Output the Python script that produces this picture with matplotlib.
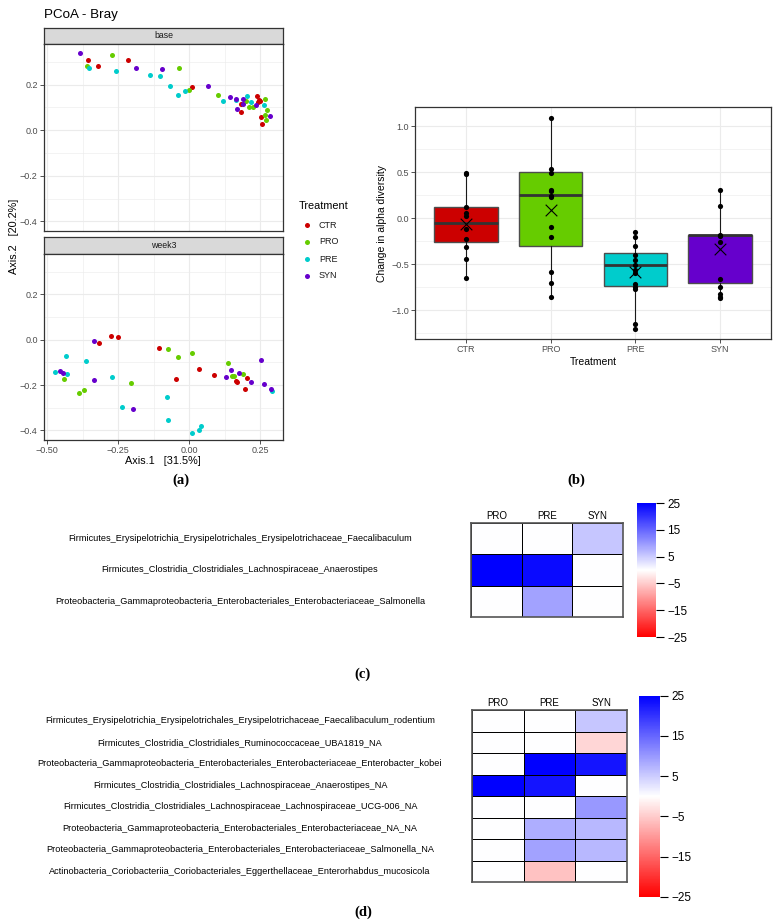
import numpy as np
import matplotlib
matplotlib.use("Agg")
import matplotlib.pyplot as plt
from matplotlib.colors import LinearSegmentedColormap, Normalize
from matplotlib.cm import ScalarMappable
from matplotlib.ticker import MultipleLocator
from matplotlib.transforms import blended_transform_factory

plt.rcParams['font.family'] = ['Liberation Sans', 'DejaVu Sans']

# ---- data ----
treatments = ["CTR", "PRO", "PRE", "SYN"]
colors = ["#CC0000", "#66CC00", "#00CCCC", "#6600CC"]

# PCoA (Bray) coordinates, baseline
base_x = {
    "CTR": [-0.355, -0.321, -0.214, 0.011, 0.183, 0.183, 0.238, 0.245, 0.250, 0.243, 0.252, 0.257],
    "PRO": [-0.360, -0.271, -0.036, 0.001, 0.101, 0.201, 0.212, 0.224, 0.265, 0.275, 0.265, 0.269],
    "PRE": [-0.351, -0.258, -0.137, -0.102, -0.066, -0.041, -0.013, 0.119, 0.165, 0.205, 0.217, 0.262],
    "SYN": [-0.384, -0.186, -0.095, 0.067, 0.143, 0.164, 0.168, 0.189, 0.191, 0.236, 0.285],
}
base_y = {
    "CTR": [0.308, 0.280, 0.306, 0.190, 0.080, 0.113, 0.149, 0.132, 0.128, 0.125, 0.056, 0.029],
    "PRO": [0.280, 0.328, 0.274, 0.176, 0.155, 0.130, 0.100, 0.101, 0.135, 0.088, 0.066, 0.044],
    "PRE": [0.274, 0.258, 0.242, 0.236, 0.193, 0.154, 0.171, 0.127, 0.133, 0.148, 0.122, 0.110],
    "SYN": [0.338, 0.273, 0.267, 0.196, 0.144, 0.139, 0.094, 0.116, 0.136, 0.111, 0.062],
}
# week 3
week3_x = {
    "CTR": [-0.316, -0.274, -0.250, -0.106, -0.045, 0.036, 0.087, 0.164, 0.168, 0.205, 0.198],
    "PRO": [-0.440, -0.386, -0.369, -0.205, -0.075, -0.038, 0.011, 0.138, 0.152, 0.158, 0.191],
    "PRE": [-0.472, -0.432, -0.428, -0.362, -0.272, -0.235, -0.077, -0.074, 0.011, 0.035, 0.040, 0.293],
    "SYN": [-0.453, -0.443, -0.335, -0.334, -0.196, 0.129, 0.147, 0.174, 0.217, 0.251, 0.264, 0.289],
}
week3_y = {
    "CTR": [-0.013, 0.017, 0.014, -0.037, -0.172, -0.128, -0.154, -0.180, -0.185, -0.168, -0.218],
    "PRO": [-0.173, -0.235, -0.220, -0.190, -0.040, -0.075, -0.060, -0.103, -0.161, -0.161, -0.152],
    "PRE": [-0.143, -0.073, -0.152, -0.094, -0.163, -0.295, -0.251, -0.356, -0.409, -0.400, -0.382, -0.224],
    "SYN": [-0.139, -0.146, -0.004, -0.178, -0.304, -0.166, -0.135, -0.147, -0.186, -0.088, -0.193, -0.216],
}

# change in alpha diversity
alpha_pts = {
    "CTR": [0.49, 0.48, 0.12, 0.06, 0.02, -0.12, -0.23, -0.31, -0.44, -0.65],
    "PRO": [1.09, 0.535, 0.485, 0.30, 0.29, 0.24, 0.225, -0.094, -0.207, -0.587, -0.703, -0.855],
    "PRE": [-0.152, -0.203, -0.308, -0.399, -0.457, -0.511, -0.565, -0.60, -0.72, -0.746, -0.77, -1.152, -1.203],
    "SYN": [0.30, 0.135, -0.18, -0.19, -0.26, -0.667, -0.75, -0.83, -0.855, -0.87],
}
box_q1 = [-0.26, -0.30, -0.74, -0.71]
box_med = [-0.05, 0.25, -0.51, -0.185]
box_q3 = [0.12, 0.495, -0.377, -0.18]
box_lo = [-0.65, -0.855, -1.203, -0.87]
box_hi = [0.49, 1.09, -0.152, 0.30]
box_mean = [-0.065, 0.083, -0.583, -0.337]

# heatmaps
heat_cols = ["PRO", "PRE", "SYN"]
taxa_c = [
    "Firmicutes_Erysipelotrichia_Erysipelotrichales_Erysipelotrichaceae_Faecalibaculum",
    "Firmicutes_Clostridia_Clostridiales_Lachnospiraceae_Anaerostipes",
    "Proteobacteria_Gammaproteobacteria_Enterobacteriales_Enterobacteriaceae_Salmonella",
]
heat_c = [[0, 0, 5.5],
          [25, 24, 0],
          [0, 9, 0]]
taxa_d = [
    "Firmicutes_Erysipelotrichia_Erysipelotrichales_Erysipelotrichaceae_Faecalibaculum_rodentium",
    "Firmicutes_Clostridia_Clostridiales_Ruminococcaceae_UBA1819_NA",
    "Proteobacteria_Gammaproteobacteria_Enterobacteriales_Enterobacteriaceae_Enterobacter_kobei",
    "Firmicutes_Clostridia_Clostridiales_Lachnospiraceae_Anaerostipes_NA",
    "Firmicutes_Clostridia_Clostridiales_Lachnospiraceae_Lachnospiraceae_UCG-006_NA",
    "Proteobacteria_Gammaproteobacteria_Enterobacteriales_Enterobacteriaceae_NA_NA",
    "Proteobacteria_Gammaproteobacteria_Enterobacteriales_Enterobacteriaceae_Salmonella_NA",
    "Actinobacteria_Coriobacteriia_Coriobacteriales_Eggerthellaceae_Enterorhabdus_mucosicola",
]
heat_d = [[0, 0, 5.5],
          [0, 0, -4],
          [0, 25, 23],
          [25, 23, 0],
          [0, 0, 10],
          [0, 8, 7],
          [0, 9, 7],
          [0, -6, 0]]
cbar_ticks = [25, 15, 5, -5, -15, -25]

# ---- layout helpers (pixel boxes) ----
W, H = 784, 924
fig = plt.figure(figsize=(W / 100, H / 100), dpi=100)


def box(l, t, r, b):
    return fig.add_axes([l / W, 1 - b / H, (r - l) / W, (b - t) / H])


GRID = "#EBEBEB"
BORDER = "#333333"
TICKC = "#4D4D4D"


def style_bw(ax):
    ax.set_facecolor("white")
    ax.grid(True, which="major", color=GRID, lw=0.8)
    ax.grid(True, which="minor", color=GRID, lw=0.4)
    ax.set_axisbelow(True)
    for s in ax.spines.values():
        s.set_color(BORDER)
        s.set_linewidth(0.9)
    ax.tick_params(which="major", length=3, width=0.6, color=BORDER,
                   labelsize=6.5, labelcolor=TICKC, pad=1.5)
    ax.tick_params(which="minor", length=0)


def strip(l, t, r, b, label):
    s = box(l, t, r, b)
    s.set_facecolor("#D9D9D9")
    s.set_xticks([])
    s.set_yticks([])
    for sp in s.spines.values():
        sp.set_color(BORDER)
        sp.set_linewidth(0.9)
    s.text(0.5, 0.5, label, ha="center", va="center", fontsize=6.3, color="#1A1A1A",
           transform=s.transAxes)


# ---- (a) PCoA ----
facets = [("base", base_x, base_y, 28, 44, 231), ("week3", week3_x, week3_y, 237, 254, 440)]
for i, (name, fx, fy, st, pt, pb) in enumerate(facets):
    strip(44, st, 283, pt, name)
    ax = box(44, pt, 283, pb)
    style_bw(ax)
    for t, c in zip(treatments, colors):
        ax.scatter(fx[t], fy[t], s=13, color=c, linewidths=0, zorder=3)
    ax.set_xlim(-0.5106, 0.330)
    ax.set_ylim(-0.442, 0.378)
    ax.xaxis.set_major_locator(MultipleLocator(0.25))
    ax.xaxis.set_minor_locator(MultipleLocator(0.125))
    ax.yaxis.set_major_locator(MultipleLocator(0.2))
    ax.yaxis.set_minor_locator(MultipleLocator(0.1))
    ax.yaxis.set_major_formatter(plt.FuncFormatter(lambda v, p: f"{v:.1f}".replace("-", "\u2212")))
    if i == 0:
        ax.tick_params(axis="x", which="major", length=0, labelbottom=False)
    else:
        ax.xaxis.set_major_formatter(plt.FuncFormatter(lambda v, p: f"{v:.2f}".replace("-", "\u2212")))

# ---- (b) alpha diversity boxplot ----
axb = box(415, 107, 771, 339)
style_bw(axb)
pos = np.arange(1, len(treatments) + 1)
stats = []
for k in range(len(treatments)):
    stats.append(dict(med=box_med[k], q1=box_q1[k], q3=box_q3[k],
                      whislo=box_lo[k], whishi=box_hi[k], fliers=[]))
bp = axb.bxp(stats, positions=pos, widths=0.75, patch_artist=True,
             showcaps=False, showfliers=False,
             boxprops=dict(edgecolor="#4D4D4D", linewidth=1.0),
             medianprops=dict(color="#333333", linewidth=2.0),
             whiskerprops=dict(color="#1A1A1A", linewidth=0.8))
for patch, c in zip(bp["boxes"], colors):
    patch.set_facecolor(c)
for k, t in enumerate(treatments):
    axb.scatter(np.full(len(alpha_pts[t]), pos[k]), alpha_pts[t], s=14, color="black",
                linewidths=0, zorder=4)
axb.scatter(pos, box_mean, marker="x", s=70, color="black", linewidths=0.8, zorder=5)
axb.set_xlim(0.4, 4.6)
axb.set_ylim(-1.315, 1.207)
axb.set_xticks(pos)
axb.set_xticklabels(treatments)
axb.yaxis.set_major_locator(MultipleLocator(0.5))
axb.yaxis.set_minor_locator(MultipleLocator(0.25))
axb.yaxis.set_major_formatter(plt.FuncFormatter(lambda v, p: f"{v:.1f}".replace("-", "\u2212")))
axb.grid(False, which="minor", axis="x")
axb.set_xlabel("Treatment", fontsize=7.5, labelpad=2)
axb.set_ylabel("Change in alpha diversity", fontsize=7.5, labelpad=3)

# ---- heatmaps (c) and (d) ----
cmap = LinearSegmentedColormap.from_list("rwb", ["#FF0000", "#FFFFFF", "#0000FF"])
norm = Normalize(-25, 25)


def heatmap(l, t, r, b, values, taxa, cb_box):
    ax = box(l, t, r, b)
    vals = np.array(values, dtype=float)
    ax.pcolormesh(vals, cmap=cmap, norm=norm, edgecolors="black", linewidth=0.6)
    ax.set_xlim(0, vals.shape[1])
    ax.set_ylim(vals.shape[0], 0)
    ax.xaxis.tick_top()
    ax.set_xticks(np.arange(vals.shape[1]) + 0.5)
    ax.set_xticklabels(heat_cols)
    ax.set_yticks([])
    ax.tick_params(axis="x", length=0, pad=1.5, labelsize=7)
    for s in ax.spines.values():
        s.set_color("#555555")
        s.set_linewidth(1.2)
    tr = blended_transform_factory(fig.transFigure, ax.transData)
    for j, name in enumerate(taxa):
        ax.text(240 / W, j + 0.5, name, transform=tr, ha="center", va="center", fontsize=6.6)
    cax = box(*cb_box)
    cb = fig.colorbar(ScalarMappable(norm=norm, cmap=cmap), cax=cax, ticks=cbar_ticks)
    cb.outline.set_visible(False)
    cb.ax.set_yticklabels([str(v).replace("-", "\u2212") for v in cbar_ticks])
    cax.tick_params(length=6, width=0.8, labelsize=8.5, pad=2)


heatmap(471, 523, 623, 617, heat_c, taxa_c, (637, 503, 656, 637))
heatmap(472, 710, 627, 882, heat_d, taxa_d, (639, 695.7, 660, 896.7))

# ---- overlay: titles, legend, panel labels ----
ov = fig.add_axes([0, 0, 1, 1])
ov.set_xlim(0, W)
ov.set_ylim(H, 0)
ov.axis("off")
ov.patch.set_alpha(0)

ov.text(44, 15, "PCoA - Bray", fontsize=9.6, ha="left", va="center")
ov.text(163, 461, "Axis.1   [31.5%]", fontsize=7.8, ha="center", va="center")
ov.text(14, 236, "Axis.2   [20.2%]", fontsize=7.8, ha="center", va="center", rotation=90)

ov.text(299, 206, "Treatment", fontsize=7.8, ha="left", va="center")
for k, (t, c) in enumerate(zip(treatments, colors)):
    yy = 225 + 17 * k
    ov.scatter([307.5], [yy], s=13, color=c, linewidths=0)
    ov.text(319, yy, t, fontsize=6.5, ha="left", va="center", color="#1A1A1A")

serif = dict(family=["Liberation Serif", "DejaVu Serif"], fontweight="bold", fontsize=10.5,
             ha="center", va="center")
ov.text(181, 480, "(a)", **serif)
ov.text(576, 480, "(b)", **serif)
ov.text(363, 674, "(c)", **serif)
ov.text(363, 912, "(d)", **serif)

fig.savefig("out.png", dpi=100, facecolor="white")
